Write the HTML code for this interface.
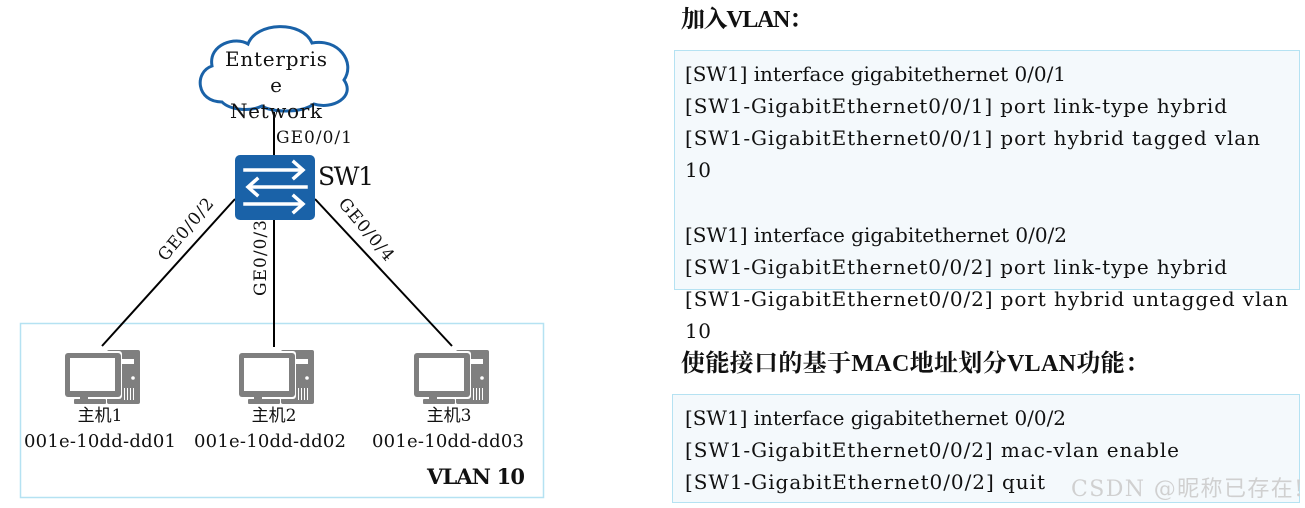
<!DOCTYPE html>
<html><head><meta charset="utf-8"><style>
html,body{margin:0;padding:0;background:#fff;}
svg{display:block;}
text{font-family:"DejaVu Serif","Noto Serif CJK SC",serif;fill:#111;}
.cj{font-family:"DejaVu Serif","Noto Sans CJK SC",serif;}
.hd{font-family:"Liberation Serif","Noto Serif CJK SC",serif;font-weight:bold;}
</style></head><body>
<svg width="1305" height="508" viewBox="0 0 1305 508" xmlns="http://www.w3.org/2000/svg">
<defs>
<g id="pc">
  <rect x="107" y="350" width="33" height="54" rx="2" fill="#7f7f7f"/>
  <rect x="112" y="359" width="22" height="5" fill="#fff"/>
  <circle cx="133" cy="378" r="1.8" fill="#fff"/>
  <rect x="124" y="388" width="1" height="12" fill="#fff"/><rect x="127" y="388" width="1" height="12" fill="#fff"/><rect x="130" y="388" width="1" height="12" fill="#fff"/><rect x="133" y="388" width="1" height="12" fill="#fff"/>
  <rect x="63" y="351" width="59" height="48" rx="3" fill="#fff"/>
  <rect x="65" y="353" width="56" height="44" rx="3" fill="#7f7f7f"/>
  <rect x="70" y="358" width="45" height="33" fill="#fff"/>
  <rect x="80" y="397" width="8" height="3" fill="#7f7f7f"/>
  <rect x="74" y="399" width="32" height="5" rx="1" fill="#7f7f7f"/>
</g>
</defs>
<rect x="20.5" y="323.5" width="523" height="174" fill="none" stroke="#b5e2f2" stroke-width="1.5"/>
<line x1="274" y1="112" x2="274" y2="155" stroke="#000" stroke-width="2"/>
<line x1="235" y1="199" x2="102" y2="346" stroke="#000" stroke-width="2"/>
<line x1="274" y1="220" x2="274" y2="347" stroke="#000" stroke-width="2"/>
<line x1="315" y1="199" x2="452" y2="346" stroke="#000" stroke-width="2"/>
<path d="M222,102 C196,102 194,72 212,66 C208,44 236,36 248,44 C256,22 302,20 312,43 C338,38 356,62 344,80 C356,97 332,110 314,104 C300,114 270,112 262,106 C250,112 230,110 222,102 Z" fill="#fff" stroke="#1a62a8" stroke-width="3"/>
<text x="276" y="66" font-size="20" text-anchor="middle" textLength="102">Enterpris</text>
<text x="276" y="92" font-size="20" text-anchor="middle">e</text>
<text x="276" y="118" font-size="20" text-anchor="middle" textLength="92">Network</text>
<text x="276" y="143" font-size="17" textLength="76">GE0/0/1</text>
<rect x="235" y="155" width="80" height="65" rx="5" fill="#1a62a8"/>
<g stroke="#fff" stroke-width="3.5" fill="none" stroke-linecap="square">
  <line x1="245" y1="170" x2="302" y2="170"/><polyline points="294,162 303,170 294,178"/>
  <line x1="250" y1="187" x2="306" y2="187"/><polyline points="257,179 248,187 257,195"/>
  <line x1="245" y1="204" x2="302" y2="204"/><polyline points="294,196 303,204 294,212"/>
</g>
<text x="318" y="185" font-size="25" textLength="56">SW1</text>
<text font-size="17" text-anchor="middle" textLength="76" transform="translate(190,233) rotate(-50)">GE0/0/2</text>
<text font-size="17" text-anchor="middle" textLength="76" transform="translate(266,258) rotate(-90)">GE0/0/3</text>
<text font-size="17" text-anchor="middle" textLength="76" transform="translate(362,233) rotate(50)">GE0/0/4</text>
<use href="#pc"/>
<use href="#pc" transform="translate(174,0)"/>
<use href="#pc" transform="translate(349,0)"/>
<text class="cj" x="100" y="421" font-size="17" text-anchor="middle">主机1</text>
<text class="cj" x="274" y="421" font-size="17" text-anchor="middle">主机2</text>
<text class="cj" x="449" y="421" font-size="17" text-anchor="middle">主机3</text>
<text x="100" y="447" font-size="18" text-anchor="middle" textLength="152">001e-10dd-dd01</text>
<text x="270" y="447" font-size="18" text-anchor="middle" textLength="152">001e-10dd-dd02</text>
<text x="448" y="447" font-size="18" text-anchor="middle" textLength="152">001e-10dd-dd03</text>
<text x="427" y="484" font-size="21" font-weight="bold" textLength="98">VLAN 10</text>
<text class="hd" x="681" y="27" font-size="24" textLength="132">加入VLAN：</text>
<rect x="674.5" y="50.5" width="625" height="239" fill="#f4f9fc" stroke="#b5e2f2" stroke-width="1"/>
<g font-size="20">
<text x="685" y="81" textLength="381">[SW1] interface gigabitethernet 0/0/1</text>
<text x="685" y="113" textLength="542">[SW1-GigabitEthernet0/0/1] port link-type hybrid</text>
<text x="685" y="145" textLength="575">[SW1-GigabitEthernet0/0/1] port hybrid tagged vlan</text>
<text x="685" y="177" textLength="26">10</text>
<text x="685" y="242" textLength="382">[SW1] interface gigabitethernet 0/0/2</text>
<text x="685" y="274" textLength="542">[SW1-GigabitEthernet0/0/2] port link-type hybrid</text>
<text x="685" y="306" textLength="603">[SW1-GigabitEthernet0/0/2] port hybrid untagged vlan</text>
<text x="685" y="338" textLength="26">10</text>
</g>
<text class="hd" x="681" y="371" font-size="24" textLength="468">使能接口的基于MAC地址划分VLAN功能：</text>
<rect x="672.5" y="394.5" width="627" height="108" fill="#f4f9fc" stroke="#b5e2f2" stroke-width="1"/>
<g font-size="20">
<text x="685" y="425" textLength="381">[SW1] interface gigabitethernet 0/0/2</text>
<text x="685" y="457" textLength="494">[SW1-GigabitEthernet0/0/2] mac-vlan enable</text>
<text x="685" y="489" textLength="360">[SW1-GigabitEthernet0/0/2] quit</text>
</g>
<text class="cj" x="1071" y="496" font-size="22" style="fill:#d0d0d0" textLength="232">CSDN @昵称已存在!</text>
</svg>
</body></html>
